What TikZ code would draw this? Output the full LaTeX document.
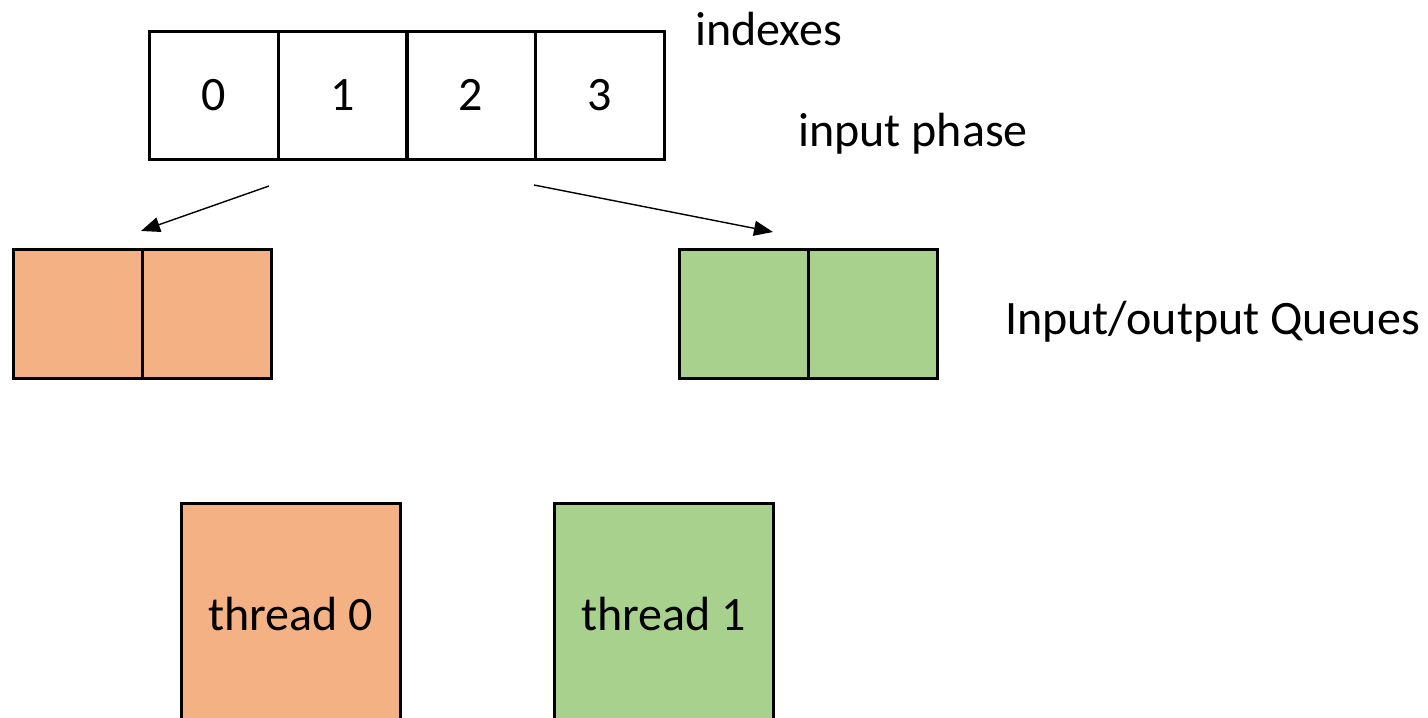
\documentclass[tikz,border=0pt]{standalone}
\usepackage{fontspec}
\setmainfont{Carlito}
\usetikzlibrary{arrows.meta}
\definecolor{qorange}{HTML}{F4B183}
\definecolor{qgreen}{HTML}{A9D18E}
\tikzset{
  cell/.style={draw=black, line width=2.6pt, minimum width=129pt, minimum height=128pt, inner sep=0pt, anchor=north west, font=\fontsize{48}{58}\selectfont},
  orangecell/.style={cell, fill=qorange, minimum height=129pt},
  greencell/.style={cell, fill=qgreen, minimum height=129pt},
  threadbox/.style={draw=black, line width=2.6pt, minimum width=219pt, minimum height=222pt, inner sep=0pt, anchor=north west, font=\fontsize{48}{58}\selectfont},
  label/.style={anchor=base west, inner sep=0pt, font=\fontsize{48}{58}\selectfont},
  conn/.style={line width=1.4pt, -{Triangle[length=19pt,width=15pt]}}
}
\begin{document}
\begin{tikzpicture}[x=1pt,y=-1pt]
\useasboundingbox (0,0) rectangle (1428,718);
\clip (0,0) rectangle (1428,718);
% index array
\node[cell] (c0) at (148,30) {\raisebox{-3pt}{0}};
\node[cell] (c1) at (277,30) {\raisebox{-3pt}{1}};
\node[cell] (c2) at (405,30) {\raisebox{-3pt}{2}};
\node[cell] (c3) at (534,30) {\raisebox{-3pt}{3}};
% labels
\node[label] (lidx) at (695,45) {indexes};
\node[label] (lphase) at (798,146) {input phase};
\node[label] (lqueue) at (1005,334) {Input/output Queues};
% queues
\node[orangecell] (oq0) at (12,248) {};
\node[orangecell] (oq1) at (141,248) {};
\node[greencell] (gq0) at (678,248) {};
\node[greencell] (gq1) at (807,248) {};
% threads
\node[threadbox, fill=qorange] (t0) at (180,502) {\raisebox{-4pt}{thread 0}};
\node[threadbox, fill=qgreen] (t1) at (553,502) {\raisebox{-4pt}{thread 1}};
% connectors
\coordinate (s0) at (269,186);
\coordinate (e0) at (141,231);
\coordinate (s1) at (534,185);
\coordinate (e1) at (773,232);
\draw[conn] (s0) -- (e0);
\draw[conn] (s1) -- (e1);
\end{tikzpicture}
\end{document}
